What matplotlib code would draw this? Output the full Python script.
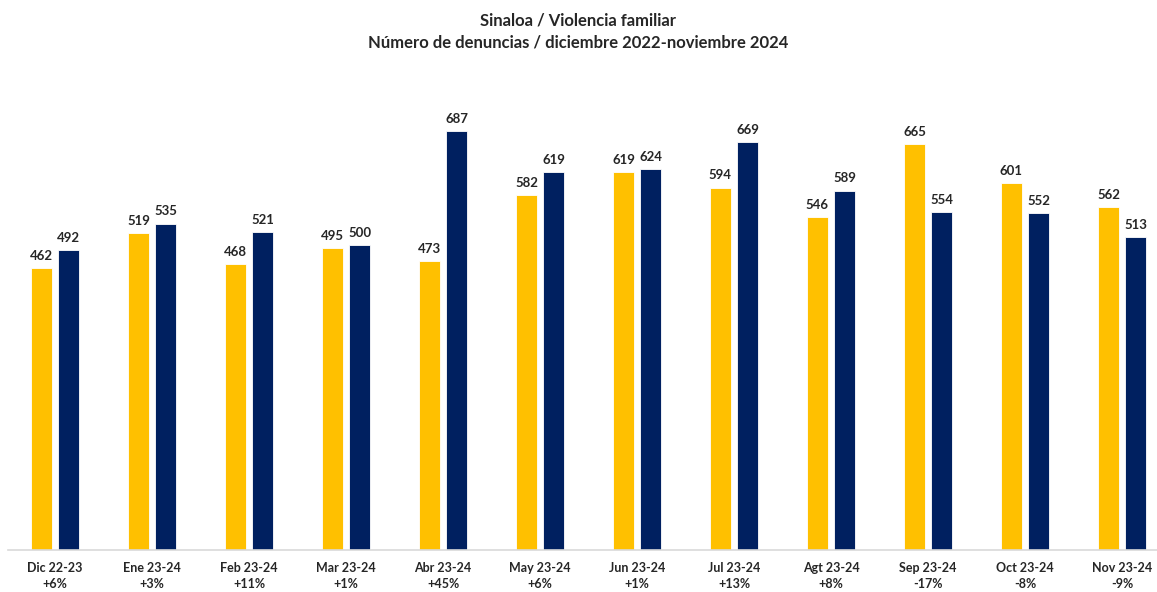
import matplotlib.pyplot as plt
import numpy as np

plt.rcParams['font.family'] = ['Lato', 'DejaVu Sans']

categories = ['Dic 22-23', 'Ene 23-24', 'Feb 23-24', 'Mar 23-24', 'Abr 23-24', 'May 23-24',
              'Jun 23-24', 'Jul 23-24', 'Agt 23-24', 'Sep 23-24', 'Oct 23-24', 'Nov 23-24']
prev_year = [462, 519, 468, 495, 473, 582, 619, 594, 546, 665, 601, 562]
curr_year = [492, 535, 521, 500, 687, 619, 624, 669, 589, 554, 552, 513]
pct_change = ['+6%', '+3%', '+11%', '+1%', '+45%', '+6%', '+1%', '+13%', '+8%', '-17%', '-8%', '-9%']

YELLOW = '#FFC000'
NAVY = '#002060'
TEXT = '#262626'

fig = plt.figure(figsize=(11.57, 5.92), dpi=100)
ax = fig.add_axes([8 / 1157, 42 / 592, 1149 / 1157, 490 / 592])

x = np.arange(len(categories))
w = 0.22
off = 0.14
ax.bar(x - off, prev_year, w, color=YELLOW, edgecolor='white', linewidth=0.6)
ax.bar(x + off, curr_year, w, color=NAVY, edgecolor='white', linewidth=0.6)

for xi, v in zip(x, prev_year):
    ax.text(xi - off, v + 10, str(v), ha='center', va='bottom', fontsize=9.5,
            fontweight='bold', color=TEXT)
for xi, v in zip(x, curr_year):
    ax.text(xi + off, v + 10, str(v), ha='center', va='bottom', fontsize=9.5,
            fontweight='bold', color=TEXT)

ax.set_xlim(-0.4845, 11.36)
ax.set_ylim(0, 803)

for s in ['top', 'right', 'left']:
    ax.spines[s].set_visible(False)
ax.spines['bottom'].set_color('#d9d9d9')
ax.spines['bottom'].set_linewidth(1.2)
ax.set_yticks([])
ax.set_xticks(x)
ax.set_xticklabels([])
ax.tick_params(axis='x', length=0)

for xi, c, p in zip(x, categories, pct_change):
    ax.text(xi, -0.036, c, transform=ax.get_xaxis_transform(), ha='center', va='center',
            fontsize=9, fontweight='bold', color=TEXT)
    ax.text(xi, -0.07, p, transform=ax.get_xaxis_transform(), ha='center', va='center',
            fontsize=9, fontweight='bold', color=TEXT)

fig.text(0.5, 1 - 20 / 592, 'Sinaloa / Violencia familiar', ha='center', va='center',
         fontsize=12, fontweight='bold', color=TEXT)
fig.text(0.5, 1 - 42 / 592, 'Número de denuncias / diciembre 2022-noviembre 2024', ha='center',
         va='center', fontsize=12, fontweight='bold', color=TEXT)

fig.savefig('out.png', dpi=100, facecolor='white')
